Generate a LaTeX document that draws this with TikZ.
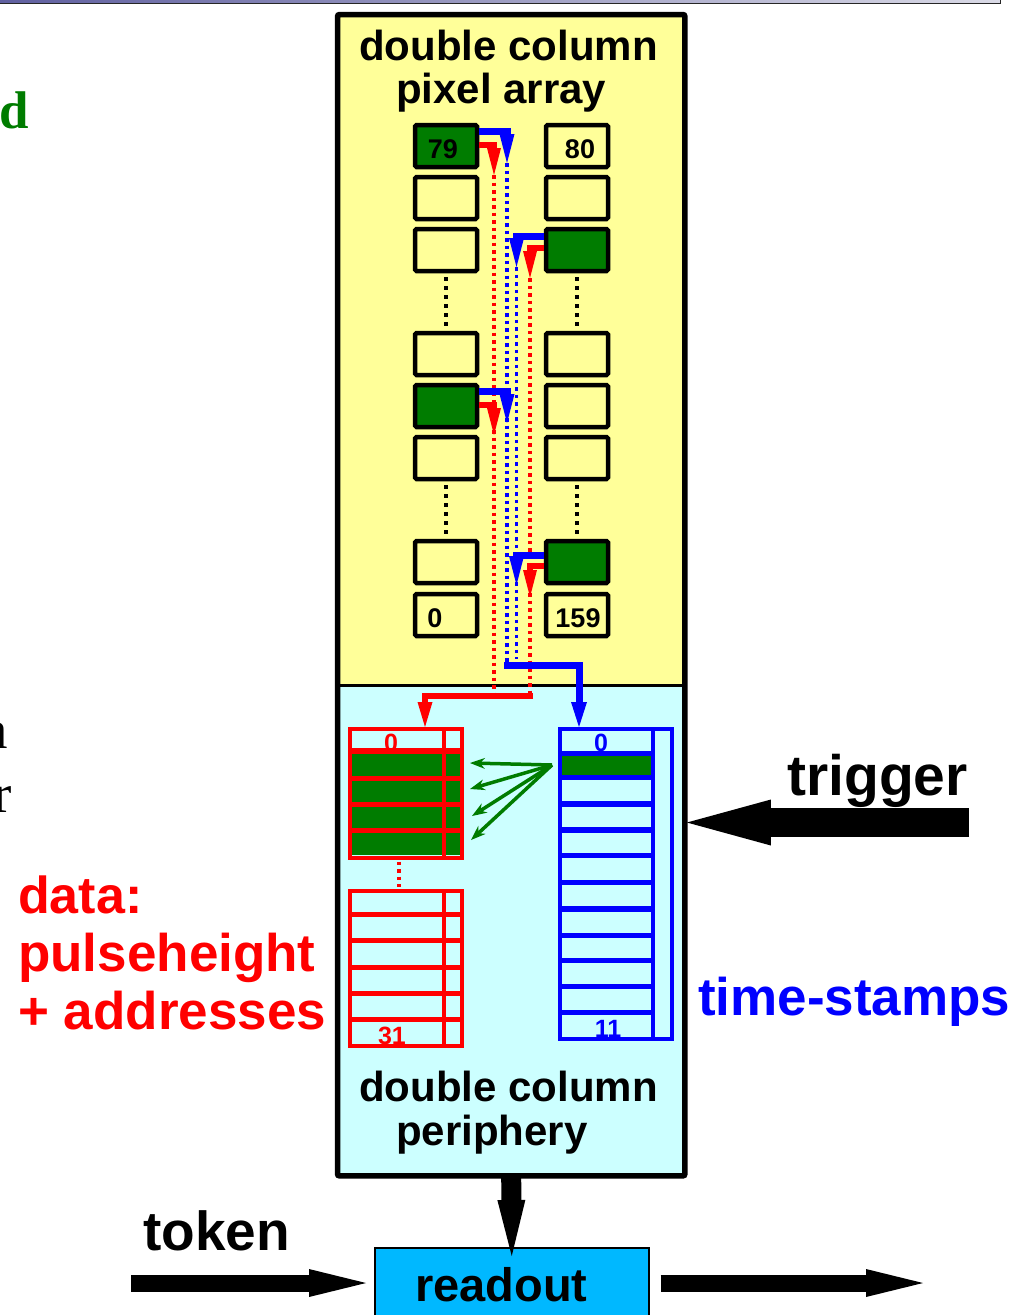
\documentclass[tikz,border=0pt]{standalone}
\usepackage{fontspec}
\setmainfont{Liberation Sans}
\newfontfamily\serifface{Liberation Serif}
\usetikzlibrary{arrows.meta}
\definecolor{padyellow}{RGB}{255,255,153}
\definecolor{pericyan}{RGB}{204,255,255}
\definecolor{hitgreen}{RGB}{0,124,0}
\definecolor{roblue}{RGB}{0,184,255}
\definecolor{stripL}{RGB}{96,96,160}
\definecolor{stripR}{RGB}{218,218,230}
\newcommand\fsb[1]{\fontsize{#1}{#1}\selectfont\bfseries}
\newcommand\fss[1]{\serifface\fontsize{#1}{#1}\selectfont}

\begin{document}
\begin{tikzpicture}[x=1pt,y=-1pt,
  cell/.style={draw=black, line width=4.5pt, fill=padyellow, rounded corners=1.5pt,
    minimum width=62pt, minimum height=42pt, inner sep=0pt},
  hit/.style={cell, fill=hitgreen},
  txt/.style={inner sep=0pt, anchor=base west},
  num/.style={inner sep=0pt, anchor=base, font=\fsb{27}},
  bufnum/.style={inner sep=0pt, anchor=base, font=\fsb{25}},
  colgap/.style={draw=black, line width=3.5pt, dash pattern=on 4pt off 5pt},
  bsig/.style={draw=blue, line width=7pt, -{Triangle[length=29pt,width=15pt,line width=0pt]}},
  rsig/.style={draw=red, line width=6pt, -{Triangle[length=27pt,width=14pt,line width=0pt]}},
  blane/.style={draw=blue, line width=3.5pt, dash pattern=on 3.5pt off 4pt},
  rlane/.style={draw=red, line width=3.5pt, dash pattern=on 3.5pt off 4pt},
  garrow/.style={draw=hitgreen, line width=3.5pt, -{Stealth[length=15pt,width=11pt,line width=0pt]}},
  fat/.style={draw=black, line width=#1},
  bigtip/.style 2 args={-{Triangle[length=#1,width=#2,line width=0pt]}},
]
\useasboundingbox (0,0) rectangle (1016,1315);

% header strip
\shade[left color=stripL, right color=stripR] (0,0) rectangle (1000,3);
\draw[line width=1pt, black!85] (0,3.5) -- (1000,3.5) -- (1000,0);

% partial words at the left margin
\node[inner sep=0pt, anchor=base east, font=\fss{53}\bfseries, text=hitgreen] (fragd) at (29,128) {d};
\node[inner sep=0pt, anchor=base east, font=\fss{55}] (fraga) at (8,748) {a};
\node[inner sep=0pt, anchor=base east, font=\fss{55}] (fragr) at (12,812) {r};

% double column: pixel array and periphery
\node[fill=padyellow, minimum width=347pt, minimum height=671pt, inner sep=0pt, anchor=north west] (pixarr) at (337.5,14.5) {};
\node[fill=pericyan, minimum width=347pt, minimum height=490.5pt, inner sep=0pt, anchor=north west] (periph) at (337.5,685) {};
\draw[line width=3pt] (pixarr.south west) -- (pixarr.south east);
\draw[line width=5.5pt, rounded corners=2pt] (pixarr.north west) rectangle (periph.south east);

\node[txt, font=\fsb{42}] (pt1) at (359,60) {double column};
\node[txt, font=\fsb{42}] (pt2) at (396,103) {pixel array};
\node[txt, font=\fsb{42}] (pp1) at (359,1101) {double column};
\node[txt, font=\fsb{42}] (pp2) at (396,1145) {periphery};

% pixel cells, left column 0..79 and right column 80..159
\node[hit]  (L1) at (446,146) {};
\node[cell] (L2) at (446,198) {};
\node[cell] (L3) at (446,250) {};
\node[cell] (L4) at (446,354) {};
\node[hit]  (L5) at (446,406) {};
\node[cell] (L6) at (446,458) {};
\node[cell] (L7) at (446,562) {};
\node[cell] (L8) at (446,615) {};
\node[cell] (R1) at (577,146) {};
\node[cell] (R2) at (577,198) {};
\node[hit]  (R3) at (577,250) {};
\node[cell] (R4) at (577,354) {};
\node[cell] (R5) at (577,406) {};
\node[cell] (R6) at (577,458) {};
\node[hit]  (R7) at (577,562) {};
\node[cell] (R8) at (577,615) {};
\node[num] (n79) at (443,158) {79};
\node[num] (n80) at (580,158) {80};
\node[num] (n0) at (435,627) {0};
\node[num] (n159) at (578,627) {159};

\draw[colgap] ([yshift=-4pt]L3.south) -- ([yshift=4pt]L4.north);
\draw[colgap] ([yshift=-4pt]L6.south) -- ([yshift=4pt]L7.north);
\draw[colgap] ([yshift=-4pt]R3.south) -- ([yshift=4pt]R4.north);
\draw[colgap] ([yshift=-4pt]R6.south) -- ([yshift=4pt]R7.north);

% column-drain lanes
\coordinate (bt1) at (507,163);
\coordinate (bt3) at (516.5,267);
\coordinate (bt5) at (507,423);
\coordinate (bt7) at (516.5,585);
\coordinate (rt1) at (494,175);
\coordinate (rt3) at (530,278);
\coordinate (rt5) at (494,435);
\coordinate (rt7) at (530,597);
\coordinate (bturn) at (504,665);
\coordinate (bdrop) at (579,665);
\coordinate (bend2) at (516.5,659);
\coordinate (rturn) at (533,696);
\coordinate (rdrop) at (425,696);

\draw[rlane] (rt1) -- (rt1 |- rturn);
\draw[rlane] (rt3) -- (rt3 |- rturn);
\draw[blane] (bt1) -- (bt1 |- bturn);
\draw[blane] (bt3) -- (bend2);

\draw[bsig] ([yshift=15pt]L1.east) -| (bt1);
\draw[rsig] ([yshift=1pt]L1.east) -| (rt1);
\draw[bsig] ([yshift=14pt]R3.west) -| (bt3);
\draw[rsig] ([yshift=2pt]R3.west) -| (rt3);
\draw[bsig] ([yshift=15pt]L5.east) -| (bt5);
\draw[rsig] ([yshift=1pt]L5.east) -| (rt5);
\draw[bsig] ([yshift=7pt]R7.west) -| (bt7);
\draw[rsig] ([yshift=-4pt]R7.west) -| (rt7);

% data buffer (0..31)
\fill[hitgreen] (348,752) rectangle (460,855);
\node[bufnum, text=red] (d0) at (391,751) {0};
\node[bufnum, text=red] (d31) at (392,1044) {31};
\foreach \yy in {751,778.5,804.5,830.5}
  \draw[red, line width=5.5pt] (348,\yy) -- (460,\yy);
\foreach \yy in {914.5,940.5,967.5,993.5,1019.5}
  \draw[red, line width=5.5pt] (348,\yy) -- (460,\yy);
\draw[red, line width=4.5pt] (444,727) -- (444,856);
\draw[red, line width=4.5pt] (444,889) -- (444,1044);
\node[draw=red, line width=3.5pt, minimum width=112pt, minimum height=129pt, inner sep=0pt, anchor=north west] (dbufA) at (348,727) {};
\node[draw=red, line width=3.5pt, minimum width=112pt, minimum height=155pt, inner sep=0pt, anchor=north west] (dbufB) at (348,889) {};
\coordinate (dgap) at (399,0);
\draw[rlane] ([yshift=-2pt]dbufA.south -| dgap) -- ([yshift=2pt]dbufB.north -| dgap);

% time-stamp buffer (0..11)
\fill[hitgreen] (558,753) rectangle (653,778);
\node[bufnum, text=blue] (s0) at (601,751) {0};
\node[bufnum, text=blue] (s11) at (608,1037) {11};
\foreach \yy in {753.5,777.5,804,830,855.5,882.5,909,935.5,960.5,986.5,1012.5}
  \draw[blue, line width=5.5pt] (558,\yy) -- (653,\yy);
\draw[blue, line width=3.5pt] (653,727) -- (653,1037);
\node[draw=blue, line width=3.5pt, minimum width=112pt, minimum height=310pt, inner sep=0pt, anchor=north west] (tbuf) at (558,727) {};

% drains into the periphery buffers
\draw[draw=blue, line width=7pt, bigtip={25pt}{16pt}] (bturn) -- (bdrop) -- (bdrop |- tbuf.north);
\draw[draw=red, line width=6pt, bigtip={25pt}{15pt}] (rturn) -- (rdrop) -- (rdrop |- dbufA.north);

% time-stamp to data association
\coordinate (ts) at (552,765);
\coordinate (g1) at (470,763);
\coordinate (g2) at (470,789);
\coordinate (g3) at (472,816);
\coordinate (g4) at (471,840);
\foreach \g in {g1,g2,g3,g4} \draw[garrow] (ts) -- (\g);

% labels at the sides
\node[txt, font=\fsb{57}] (trig) at (787,795) {trigger};
\node[txt, font=\fsb{53}, text=blue] (tst) at (698,1015) {time-stamps};
\node[txt, font=\fsb{52}, text=red] (dl1) at (18,913) {data:};
\node[txt, font=\fsb{53}, text=red] (dl2) at (18,971) {pulseheight};
\node[txt, font=\fsb{53}, text=red] (dl3) at (18,1029) {+ addresses};
\node[txt, font=\fsb{55}] (tok) at (143,1250) {token};

% trigger input
\coordinate (trigtail) at (969,822.5);
\draw[fat=29pt, bigtip={84pt}{46pt}] (trigtail) -- ([xshift=2pt]trigtail -| periph.east);

% readout
\node[draw=black, line width=1.5pt, fill=roblue, minimum width=274pt, minimum height=80pt, inner sep=0pt, anchor=north west] (ro) at (374,1247) {};
\node[txt, font=\fsb{47}] (rot) at (415,1301) {readout};
\draw[fat=20pt, bigtip={56pt}{28pt}] (periph.south) -- ([yshift=-9pt]ro.north);
\coordinate (toktail) at (131,1283);
\coordinate (outhead) at (923,1283);
\draw[fat=17pt, bigtip={57pt}{28pt}] (toktail) -- ([xshift=-8pt]ro.west |- toktail);
\draw[fat=17pt, bigtip={57pt}{28pt}] ([xshift=11pt]ro.east |- outhead) -- (outhead);
\end{tikzpicture}
\end{document}
